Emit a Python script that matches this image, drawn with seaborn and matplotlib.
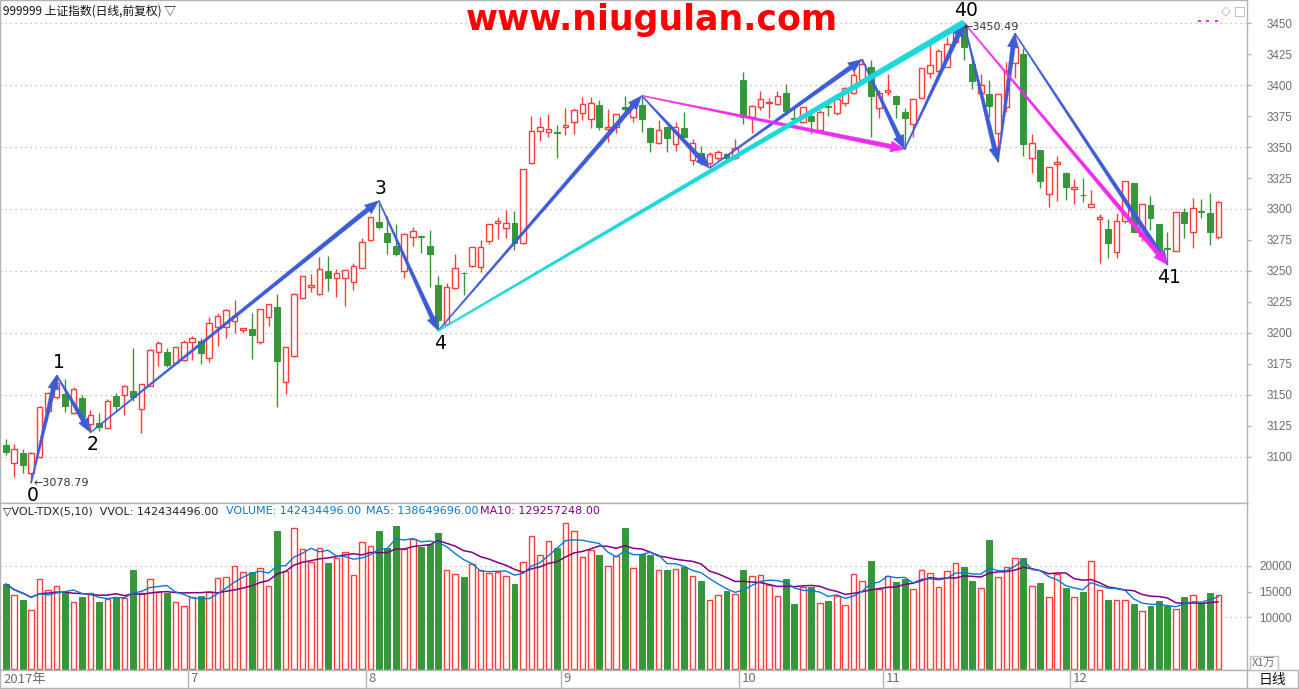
import numpy as np
import pandas as pd
import matplotlib
matplotlib.use("Agg")
import matplotlib.pyplot as plt
import seaborn as sns
from matplotlib.patches import Polygon, Rectangle

sns.set_theme(style="white")
plt.rcParams['font.family'] = ['DejaVu Sans', 'Noto Sans CJK SC']

# ---------------- data ----------------
open_ = [3109.3, 3094.5, 3102.5, 3086.4, 3099.9, 3137.0, 3147.8, 3150.5, 3134.9, 3147.3,
         3126.2, 3127.1, 3122.7, 3148.9, 3149.7, 3152.9, 3138.4, 3157.2, 3184.1, 3184.4,
         3175.3, 3178.0, 3192.2, 3193.3, 3179.3, 3204.3, 3204.3, 3209.2, 3201.9, 3203.0,
         3192.7, 3212.4, 3220.8, 3159.9, 3181.4, 3227.8, 3236.7, 3231.0, 3249.8, 3244.5,
         3244.0, 3240.7, 3252.5, 3274.9, 3289.7, 3280.8, 3270.0, 3249.9, 3277.6, 3278.4,
         3270.1, 3238.6, 3207.1, 3236.0, 3248.5, 3254.2, 3253.4, 3274.4, 3288.4, 3284.4,
         3288.4, 3272.2, 3336.9, 3363.0, 3361.9, 3361.9, 3366.0, 3370.0, 3377.2, 3372.4,
         3384.0, 3364.8, 3365.9, 3382.1, 3374.5, 3384.0, 3365.1, 3353.0, 3365.9, 3352.2,
         3365.1, 3339.5, 3344.9, 3336.8, 3340.9, 3344.1, 3340.9, 3404.2, 3374.0, 3382.1,
         3385.9, 3384.5, 3393.4, 3373.5, 3370.5, 3375.1, 3363.8, 3383.2, 3377.2, 3385.3,
         3393.4, 3404.2, 3414.4, 3381.3, 3394.2, 3391.5, 3378.0, 3368.6, 3389.9, 3409.6,
         3411.4, 3415.0, 3435.1, 3448.6, 3417.1, 3393.4, 3392.9, 3361.6, 3382.6, 3417.6,
         3425.2, 3340.9, 3347.6, 3311.8, 3336.1, 3328.8, 3315.8, 3311.5, 3301.8, 3291.6,
         3283.5, 3265.0, 3290.2, 3320.7, 3278.4, 3303.2, 3287.8, 3268.4, 3266.3, 3297.2,
         3281.1, 3298.3, 3296.4, 3277.6]
high = [3114.1, 3110.1, 3105.8, 3103.6, 3140.8, 3152.4, 3165.8, 3163.0, 3156.4, 3149.7,
        3137.6, 3134.9, 3146.2, 3151.0, 3157.5, 3187.9, 3158.8, 3186.5, 3193.3, 3187.9,
        3188.6, 3194.1, 3197.0, 3195.5, 3213.0, 3215.6, 3219.1, 3226.4, 3204.0, 3215.6,
        3219.0, 3223.0, 3231.3, 3188.5, 3232.3, 3245.8, 3247.2, 3261.4, 3262.0, 3251.5,
        3251.0, 3256.0, 3276.2, 3293.5, 3306.7, 3294.3, 3287.8, 3280.2, 3285.7, 3279.0,
        3283.0, 3245.9, 3240.0, 3263.6, 3249.0, 3269.5, 3274.9, 3288.0, 3293.8, 3299.2,
        3298.4, 3332.5, 3375.1, 3374.0, 3376.7, 3367.8, 3381.3, 3381.3, 3390.2, 3390.2,
        3388.0, 3380.5, 3377.0, 3391.2, 3388.0, 3391.5, 3366.5, 3371.8, 3367.0, 3370.5,
        3378.3, 3356.2, 3351.1, 3346.3, 3347.6, 3345.0, 3356.2, 3410.4, 3383.7, 3395.5,
        3389.4, 3395.3, 3401.0, 3383.2, 3382.5, 3378.6, 3379.9, 3388.0, 3389.4, 3398.2,
        3415.5, 3420.9, 3420.3, 3396.1, 3409.0, 3392.0, 3381.8, 3388.8, 3414.0, 3433.8,
        3428.9, 3438.6, 3445.9, 3450.49, 3424.4, 3409.0, 3404.2, 3393.0, 3419.0, 3441.9,
        3429.8, 3360.5, 3348.0, 3334.0, 3342.8, 3329.5, 3323.9, 3324.7, 3315.3, 3295.6,
        3291.6, 3297.0, 3322.6, 3321.0, 3304.0, 3310.4, 3288.0, 3281.6, 3297.5, 3300.5,
        3308.6, 3307.7, 3312.6, 3306.7]
low = [3101.2, 3083.2, 3086.4, 3078.79, 3098.5, 3136.5, 3146.5, 3136.2, 3134.5, 3127.3,
       3119.5, 3121.0, 3122.0, 3136.2, 3133.5, 3145.0, 3119.2, 3156.8, 3173.1, 3172.0,
       3175.0, 3177.5, 3178.0, 3174.7, 3176.1, 3189.2, 3196.0, 3200.0, 3200.0, 3178.7,
       3190.9, 3205.4, 3140.2, 3150.5, 3180.6, 3227.0, 3233.2, 3230.8, 3234.0, 3229.1,
       3221.8, 3234.5, 3252.0, 3274.5, 3283.5, 3263.3, 3262.0, 3244.5, 3270.4, 3264.7,
       3237.2, 3201.7, 3206.3, 3235.5, 3230.5, 3252.9, 3249.4, 3271.4, 3275.7, 3276.3,
       3266.9, 3271.8, 3336.5, 3355.2, 3357.9, 3341.5, 3359.8, 3360.6, 3371.8, 3365.6,
       3363.8, 3354.3, 3361.1, 3374.5, 3370.0, 3362.4, 3346.3, 3352.5, 3345.7, 3347.1,
       3357.8, 3335.5, 3335.5, 3333.0, 3339.5, 3339.5, 3340.5, 3368.6, 3361.1, 3379.9,
       3373.2, 3384.0, 3375.9, 3371.9, 3369.2, 3360.5, 3363.5, 3375.3, 3375.9, 3383.2,
       3393.0, 3403.8, 3358.4, 3373.2, 3392.0, 3373.2, 3348.2, 3358.4, 3389.5, 3406.1,
       3410.9, 3414.5, 3434.5, 3420.3, 3396.6, 3392.9, 3374.5, 3338.2, 3378.6, 3405.5,
       3342.8, 3329.3, 3316.6, 3301.8, 3306.4, 3307.2, 3303.7, 3305.3, 3301.3, 3256.0,
       3260.1, 3260.1, 3288.9, 3281.0, 3274.4, 3283.0, 3264.1, 3255.0, 3266.0, 3276.3,
       3268.2, 3292.4, 3270.9, 3275.4]
close = [3103.9, 3105.8, 3092.9, 3102.5, 3140.2, 3151.0, 3159.1, 3141.1, 3154.5, 3131.6,
         3133.5, 3124.1, 3144.6, 3141.1, 3157.0, 3148.3, 3158.3, 3186.0, 3191.4, 3174.2,
         3188.2, 3192.8, 3196.0, 3183.9, 3207.6, 3213.5, 3218.3, 3213.5, 3203.5, 3198.4,
         3218.9, 3222.9, 3177.4, 3188.2, 3231.0, 3245.5, 3238.3, 3251.2, 3244.5, 3248.0,
         3250.7, 3253.9, 3273.0, 3293.2, 3285.7, 3273.5, 3263.3, 3279.8, 3282.2, 3277.1,
         3263.4, 3210.3, 3237.2, 3252.0, 3248.0, 3269.0, 3269.0, 3287.6, 3290.6, 3288.4,
         3272.8, 3332.0, 3363.0, 3366.0, 3364.3, 3361.6, 3367.8, 3380.0, 3384.8, 3385.3,
         3366.5, 3365.9, 3376.7, 3380.5, 3384.8, 3372.4, 3354.3, 3363.8, 3357.6, 3365.9,
         3358.4, 3353.0, 3338.2, 3344.1, 3345.7, 3340.9, 3349.0, 3374.5, 3383.2, 3388.5,
         3386.7, 3391.0, 3379.4, 3372.9, 3382.1, 3371.3, 3378.6, 3382.1, 3388.5, 3397.4,
         3408.2, 3416.8, 3391.5, 3393.4, 3396.1, 3384.5, 3373.2, 3388.5, 3413.6, 3416.3,
         3427.9, 3433.3, 3443.2, 3430.6, 3403.6, 3400.1, 3383.4, 3392.6, 3411.7, 3431.1,
         3352.5, 3353.5, 3322.8, 3333.6, 3338.2, 3318.0, 3318.0, 3311.0, 3304.0, 3293.8,
         3272.7, 3290.3, 3322.6, 3281.6, 3303.7, 3292.9, 3266.8, 3267.9, 3297.2, 3288.9,
         3300.5, 3297.8, 3281.6, 3305.9]
# volume in units of 10,000 (X1万)
volume = [16454, 14258, 13353, 11415, 17358, 15291, 16066, 14774, 12965, 13934,
          14645, 13030, 13547, 13999, 13676, 19167, 14645, 17358, 14968, 14710,
          12965, 12126, 13999, 14128, 14968, 17552, 17746, 19878, 18780, 18780,
          19490, 16002, 26725, 18973, 27242, 23172, 20718, 23366, 20588, 21493,
          22720, 18133, 24529, 23754, 26725, 23495, 27694, 23237, 25110, 23625,
          24270, 26337, 19102, 18392, 17810, 20394, 19102, 18586, 18780, 17940,
          16454, 20718, 25756, 22074, 24723, 23431, 28211, 26661, 21622, 23043,
          22074, 19878, 21945, 27307, 19490, 22203, 22074, 19102, 19167, 19296,
          19813, 17940, 17035, 13353, 14258, 15097, 14451, 19167, 17940, 18133,
          16260, 14064, 17423, 12578, 15808, 15937, 12707, 13159, 14128, 12320,
          18392, 17035, 20911, 15420, 18069, 16906, 17423, 15420, 19102, 18521,
          15808, 18909, 20459, 19748, 17035, 15614, 24981, 17746, 19684, 21428,
          21493, 16002, 16647, 13870, 18392, 15679, 13870, 14904, 20846, 15291,
          13353, 13353, 13353, 12578, 11157, 12190, 13159, 12190, 11544, 13934,
          14258, 12707, 14710, 14243]

month_labels = ["2017年", "7", "8", "9", "10", "11", "12"]
month_starts = [0, 22, 43, 66, 87, 104, 126]

pivot_idx = [3, 6, 10, 44, 51, 75, 83, 101, 106, 113, 117, 119, 137]
pivot_kind = ["L", "H", "L", "H", "L", "H", "L", "H", "L", "H", "L", "H", "L"]
pivot_names = ["0", "1", "2", "3", "4", "", "", "", "", "40", "", "", "41"]
magenta_links = [(5, 8), (9, 12)]      # pivot numbers joined by magenta arrows
cyan_link = (4, 9)

price_ticks = [3100, 3125, 3150, 3175, 3200, 3225, 3250, 3275, 3300,
               3325, 3350, 3375, 3400, 3425, 3450]
vol_ticks = [10000, 15000, 20000]

title_text = "999999 上证指数(日线,前复权) ▽"
vol_head = "▽VOL-TDX(5,10)  VVOL: 142434496.00"
vol_text = "VOLUME: 142434496.00"
ma5_text = "MA5: 138649696.00"
ma10_text = "MA10: 129257248.00"

# ---------------- styling ----------------
RED = "#FF3C3C"
GREEN = "#36963A"
BLUE_ARROW = "#3D5CD6"
CYAN = "#1CD9D9"
MAGENTA = "#F02CF0"
MA5_C = "#0A78D2"
MA10_C = "#800080"
GRID = "#B4B4B4"
SPINE = "#B4B4B4"
TICKC = "#6E6E6E"

W, H = 1299, 689
fig = plt.figure(figsize=(W / 100, H / 100), dpi=100)
fig.patch.set_facecolor("white")


def rect(l, t, w, h):
    return [l / W, 1 - (t + h) / H, w / W, h / H]


ax_p = fig.add_axes(rect(0, 0, 1247, 503))
ax_v = fig.add_axes(rect(0, 503, 1247, 167))
ax_d = fig.add_axes(rect(0, 670, 1247, 18))
ax_b = fig.add_axes(rect(1247, 670, 51, 18))

XLIM = (-0.672, 146.38)
for ax in (ax_p, ax_v, ax_d, ax_b):
    ax.set_facecolor("white")
    for s in ax.spines.values():
        s.set_color(SPINE)
        s.set_linewidth(1.0)
for ax in (ax_p, ax_v, ax_d):
    ax.set_xlim(*XLIM)
    ax.set_xticks([])

ax_p.set_ylim(3062.5, 3468.8)
ax_v.set_ylim(-213, 32151)

o = np.array(open_); h = np.array(high); l = np.array(low); c = np.array(close)
v = np.array(volume, dtype=float)
x = np.arange(len(o))
up = c >= o

# ---- candles ----
ax_p.vlines(x[up], l[up], h[up], colors=RED, lw=1, zorder=2)
ax_p.vlines(x[~up], l[~up], h[~up], colors=GREEN, lw=1, zorder=2)
ax_p.bar(x[up], np.maximum(c[up] - o[up], 0.05), bottom=o[up], width=0.66,
         facecolor="white", edgecolor=RED, linewidth=1, zorder=3)
ax_p.bar(x[~up], np.maximum(o[~up] - c[~up], 0.05), bottom=c[~up], width=0.7,
         facecolor=GREEN, edgecolor=GREEN, linewidth=0.7, zorder=3)

# ---- grids & ticks ----
for t in price_ticks:
    if t % 50 == 0:
        ax_p.axhline(t, color=GRID, lw=0.9, ls=(0, (1, 3)), zorder=1)
for t in (10000, 20000):
    ax_v.axhline(t, color=GRID, lw=0.9, ls=(0, (1, 3)), zorder=1)

for ax, ticks in ((ax_p, price_ticks), (ax_v, vol_ticks)):
    ax.yaxis.tick_right()
    ax.set_yticks(ticks)
    ax.set_yticklabels([str(t) for t in ticks])
    ax.tick_params(axis="y", length=3, width=1, color=SPINE, labelcolor=TICKC,
                   labelsize=8.4, pad=29.4, labelfontfamily="Liberation Sans", right=True, left=False)
    for lab in ax.get_yticklabels():
        lab.set_horizontalalignment("right")

# ---- volume ----
ax_v.bar(x[up], v[up], width=0.66, facecolor="white", edgecolor=RED, linewidth=1, zorder=2)
ax_v.bar(x[~up], v[~up], width=0.7, facecolor=GREEN, edgecolor=GREEN, linewidth=0.7, zorder=2)
vs = pd.Series(v)
ma_df = pd.DataFrame({"i": x, "ma5": vs.rolling(5, min_periods=1).mean(),
                      "ma10": vs.rolling(10, min_periods=1).mean()})
sns.lineplot(data=ma_df, x="i", y="ma10", ax=ax_v, color=MA10_C, lw=1.1, zorder=4, legend=False)
sns.lineplot(data=ma_df, x="i", y="ma5", ax=ax_v, color=MA5_C, lw=1.0, zorder=5, legend=False)
ax_v.set_xlabel(""); ax_v.set_ylabel("")
ax_v.set_xlim(*XLIM)
ax_p.set_xlabel(""); ax_p.set_ylabel("")

# ---- date strip ----
ax_d.set_ylim(0, 1)
ax_d.set_yticks([])
for lab, s in zip(month_labels, month_starts):
    xb = s - 0.5
    if s > 0:
        ax_d.axvline(xb, ymin=0.05, ymax=0.95, color=SPINE, lw=1)
    ax_d.annotate(lab, xy=(xb, 0.5), xytext=(2.5, 0), textcoords="offset pixels",
                  ha="left", va="center", fontsize=9.5, color=TICKC,
                  family=["Noto Sans CJK SC", "DejaVu Sans"])
ax_b.set_xticks([]); ax_b.set_yticks([])
ax_b.text(0.5, 0.45, "日线", transform=ax_b.transAxes, ha="center", va="center",
          fontsize=10, color="#111111", family=["Noto Sans CJK SC", "DejaVu Sans"])

# ---- zigzag arrows ----
fig.canvas.draw()


def pivot_xy(k):
    i = pivot_idx[k]
    return i, (h[i] if pivot_kind[k] == "H" else l[i])


def tapered(ax, p0, p1, color, w0, w1, hw, hl, z):
    a = ax.transData.transform(p0)
    b = ax.transData.transform(p1)
    d = b - a
    L = np.hypot(*d)
    u = d / L
    n = np.array([-u[1], u[0]])
    base = b - u * hl if hl > 0 else b
    pts = [a + n * w0 / 2, base + n * w1 / 2]
    if hl > 0:
        pts += [base + n * hw / 2, b, base - n * hw / 2]
    pts += [base - n * w1 / 2, a - n * w0 / 2]
    data = ax.transData.inverted().transform(np.array(pts))
    ax.add_patch(Polygon(data, closed=True, facecolor=color, edgecolor=color,
                         lw=0.3, zorder=z, clip_on=False))


for k in range(len(pivot_idx) - 1):
    tapered(ax_p, pivot_xy(k), pivot_xy(k + 1), BLUE_ARROW, 1.0, 4.5, 11, 14, 6)
for a_, b_ in magenta_links:
    tapered(ax_p, pivot_xy(a_), pivot_xy(b_), MAGENTA, 1.0, 4.5, 11, 14, 7)
tapered(ax_p, pivot_xy(cyan_link[0]), pivot_xy(cyan_link[1]), CYAN, 1.5, 6.0, 0, 0, 8)

# ---- pivot labels ----
for k, name in enumerate(pivot_names):
    if not name:
        continue
    px, py = pivot_xy(k)
    if pivot_kind[k] == "H":
        ax_p.annotate(name, xy=(px, py), xytext=(2, 3), textcoords="offset pixels",
                      ha="center", va="bottom", fontsize=13.5, color="black", zorder=9)
    else:
        ax_p.annotate(name, xy=(px, py), xytext=(2, -3), textcoords="offset pixels",
                      ha="center", va="top", fontsize=13.5, color="black", zorder=9)

# extreme value tags
lo_i = int(np.argmin(l)); hi_i = int(np.argmax(h))
ax_p.annotate("←%.2f" % l[lo_i], xy=(lo_i, l[lo_i]), xytext=(2, 0), textcoords="offset pixels",
              ha="left", va="center", fontsize=8, color="#333333", zorder=9)
ax_p.annotate("←%.2f" % h[hi_i], xy=(hi_i, h[hi_i]), xytext=(0, -4), textcoords="offset pixels",
              ha="left", va="center", fontsize=8, color="#333333", zorder=9)

# ---- header texts ----
def ftext(xp, yp, s, **kw):
    fig.text(xp / W, 1 - yp / H, s, va="center", **kw)


ftext(3, 11, title_text, fontsize=8.5, color="#111111", ha="left",
      family=["Noto Sans CJK SC", "DejaVu Sans"])
ftext(652, 20, "www.niugulan.com", fontsize=25, color="#FF0000", ha="center",
      fontweight="heavy", family="DejaVu Sans")
ftext(1226, 11, "◇", fontsize=9, color="#B0B0B0", ha="center")
ftext(1240, 11, "□", fontsize=9, color="#B0B0B0", ha="center")
for xd in (1199, 1207, 1216):
    fig.patches.append(Rectangle(((xd - 1) / W, 1 - 22 / H), 2.5 / W, 2 / H,
                                 transform=fig.transFigure, facecolor=MAGENTA, edgecolor="none"))

ftext(3, 511, vol_head, fontsize=8, color="#222222", ha="left")
ftext(226, 511, vol_text, fontsize=8, color=MA5_C, ha="left")
ftext(366, 511, ma5_text, fontsize=8, color=MA5_C, ha="left")
ftext(480, 511, ma10_text, fontsize=8, color=MA10_C, ha="left")

# X1万 box
fig.patches.append(Rectangle((1250 / W, 1 - 670 / H), 28 / W, 14 / H, transform=fig.transFigure,
                             facecolor="white", edgecolor="#C0C0C0", lw=1))
ftext(1264, 663, "X1万", fontsize=8, color=TICKC, ha="center",
      family=["Noto Sans CJK SC", "DejaVu Sans"])

fig.savefig("out.png", dpi=100, facecolor="white")
